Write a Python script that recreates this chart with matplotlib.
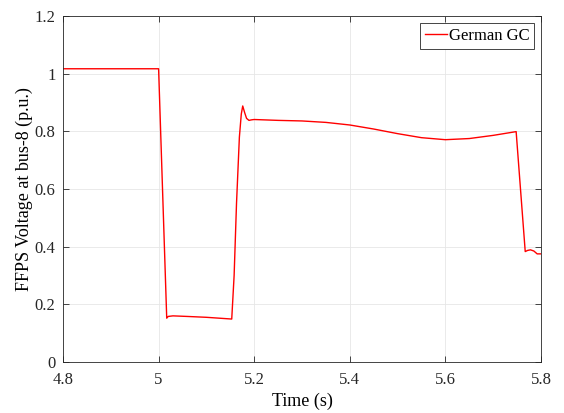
import matplotlib
matplotlib.use("Agg")
import matplotlib.pyplot as plt

plt.rcParams['font.family'] = ['Liberation Serif', 'DejaVu Serif']

t = [4.80, 5.000, 5.017, 5.020, 5.030, 5.060, 5.100, 5.153, 5.158, 5.163, 5.169, 5.173, 5.176,
     5.180, 5.184, 5.189, 5.195, 5.20, 5.25, 5.30, 5.35, 5.40, 5.45, 5.50, 5.55, 5.60, 5.65,
     5.70, 5.748, 5.767, 5.772, 5.778, 5.785, 5.792, 5.80]
v = [1.017, 1.017, 0.152, 0.158, 0.160, 0.158, 0.155, 0.149, 0.30, 0.55, 0.78, 0.86, 0.888,
     0.865, 0.845, 0.838, 0.840, 0.841, 0.838, 0.836, 0.831, 0.822, 0.808, 0.792, 0.778, 0.771, 0.775,
     0.786, 0.799, 0.383, 0.387, 0.389, 0.385, 0.375, 0.375]

fig = plt.figure(figsize=(5.64, 4.13), dpi=100)
ax = fig.add_axes([63/564, 1 - 362/413, (541-63)/564, (362-16)/413])
ax.plot(t, v, color='red', lw=1.0, label='German GC')
ax.set_xlim(4.8, 5.8)
ax.set_ylim(0, 1.2)
ax.set_xticks([4.8, 5.0, 5.2, 5.4, 5.6, 5.8])
ax.set_xticklabels(['4.8', '5', '5.2', '5.4', '5.6', '5.8'])
ax.set_yticks([0, 0.2, 0.4, 0.6, 0.8, 1.0, 1.2])
ax.set_yticklabels(['0', '0.2', '0.4', '0.6', '0.8', '1', '1.2'])
ax.grid(True, color='#e6e6e6', lw=0.6)
ax.set_axisbelow(True)
ax.tick_params(direction='in', top=True, right=True, labelsize=12, length=4, width=0.6, colors='#262626')
ax.tick_params(axis='x', pad=7.5)
ax.tick_params(axis='y', pad=5.5)
for s in ax.spines.values():
    s.set_color('#262626')
    s.set_linewidth(0.6)
ax.set_xlabel('Time (s)', fontsize=13, labelpad=3)
ax.set_ylabel('FFPS Voltage at bus-8 (p.u.)', fontsize=13, labelpad=1)
leg = ax.legend(loc='upper right', fontsize=12, fancybox=False, edgecolor='#262626',
                framealpha=1, borderaxespad=0.4, handlelength=1.3, handletextpad=0.12,
                borderpad=0.3)
leg.get_frame().set_linewidth(0.6)
fig.savefig('out.png', dpi=100)
